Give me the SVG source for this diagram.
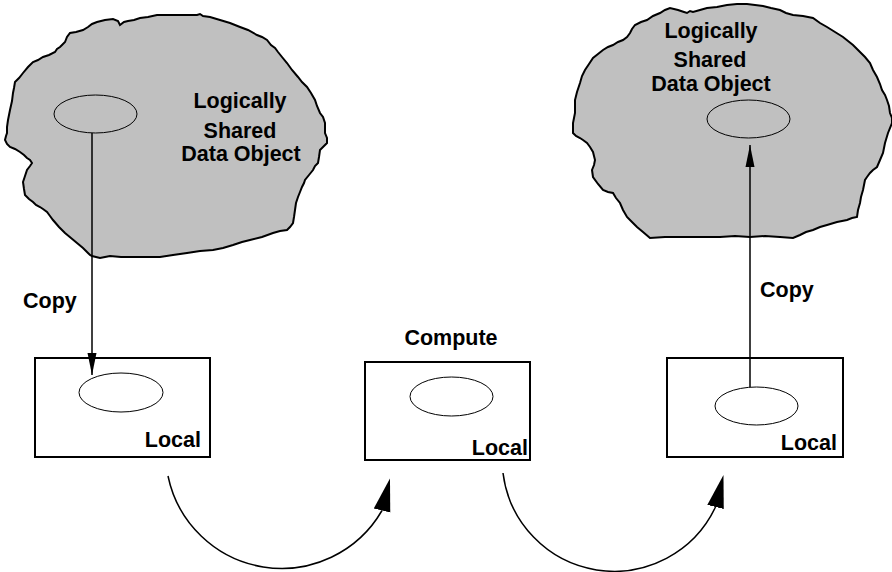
<svg xmlns="http://www.w3.org/2000/svg" width="892" height="572" viewBox="0 0 892 572">
<style>
.cloud{fill:#c0c0c0;stroke:#000;stroke-width:2;stroke-linejoin:miter}
.box{fill:#fff;stroke:#000;stroke-width:2}
.ell{fill:none;stroke:#000;stroke-width:1}
.lbl{font-family:"Liberation Sans",Arial,Helvetica,sans-serif;font-weight:bold;font-size:21.5px;fill:#000}
.mid{text-anchor:middle}
.end{text-anchor:end}
.conn{fill:none;stroke:#000;stroke-width:1.5}
</style>
<defs>
<marker id="arrS" markerUnits="userSpaceOnUse" viewBox="-22 -5 23 10" refX="0" refY="0" markerWidth="23" markerHeight="10" orient="auto">
<path d="M-22,-4.5 L0,0 L-22,4.5 Z" fill="#000"/>
</marker>
<marker id="arrC" markerUnits="userSpaceOnUse" viewBox="0 -9 34 18" refX="0" refY="0" markerWidth="34" markerHeight="18" orient="-76">
<path d="M0,-8.5 L33,0 L0,8.5 Z" fill="#000"/>
</marker>
</defs>
<rect width="892" height="572" fill="#fff"/>
<g id="cloud-left">
<path class="cloud" d="M8,120 L9,115 L10,110 L12,101 L13,93 L14,88 L15,82 L19,78 L23,73 L28,67 L33,62 L38,60 L43,57 L49,55 L55,52 L57,49 L60,47 L62,45 L65,42 L67,37 L70,33 L76,32 L83,30 L88,27 L92,24 L97,22 L105,20 L113,19 L118,21 L120,25 L124,22 L128,21 L134,20 L140,18 L148,17 L157,15 L170,15 L185,15 L197,15 L200,14 L203,16 L210,17 L220,20 L230,23 L240,27 L248,30 L257,35 L262,37 L267,40 L271,45 L275,48 L278,52 L282,57 L287,63 L292,70 L298,77 L302,82 L307,87 L311,93 L315,100 L317,106 L320,113 L323,117 L325,123 L325,128 L325,133 L327,138 L327,143 L323,147 L320,150 L319,157 L318,163 L315,166 L313,170 L309,175 L305,180 L304,183 L302,187 L300,192 L298,197 L296,203 L295,210 L294,217 L293,223 L290,227 L287,230 L280,231 L273,233 L262,237 L250,240 L242,242 L233,245 L223,248 L213,250 L200,251 L187,253 L173,255 L160,257 L147,257 L133,257 L121,257 L110,256 L105,257 L100,258 L96,257 L92,256 L90,255 L88,253 L83,248 L77,243 L71,238 L65,233 L59,227 L53,220 L50,216 L47,212 L43,209 L40,207 L36,205 L33,202 L29,199 L25,195 L24,189 L23,182 L25,176 L27,170 L30,166 L32,163 L30,160 L27,158 L24,155 L20,152 L15,149 L10,147 L7,144 L5,140 L6,136 L7,133 L7,127 Z"/>
<ellipse class="ell" cx="95.5" cy="114" rx="41.5" ry="19"/>
<text class="lbl mid" x="240" y="108">Logically</text>
<text class="lbl mid" x="240" y="138">Shared</text>
<text class="lbl mid" x="241" y="161">Data Object</text>
</g>
<g id="cloud-right">
<path class="cloud" d="M575,113 L575,106 L575,100 L577,92 L580,83 L582,76 L585,70 L589,64 L593,58 L598,54 L603,50 L608,47 L613,45 L618,42 L623,40 L627,37 L630,33 L632,29 L635,25 L641,22 L647,20 L653,16 L660,13 L665,10 L670,8 L678,10 L684,12 L687,13 L690,11 L693,12 L700,10 L707,8 L717,7 L727,5 L737,4 L747,4 L755,5 L763,6 L771,8 L780,10 L786,13 L793,15 L803,16 L813,18 L820,23 L827,27 L835,32 L843,37 L848,41 L853,45 L857,49 L860,52 L865,57 L870,63 L873,70 L877,77 L880,84 L882,90 L885,95 L887,100 L889,106 L890,113 L892,118 L892,123 L888,133 L885,143 L884,148 L883,153 L880,160 L877,167 L873,170 L870,173 L867,177 L865,180 L864,185 L863,190 L861,197 L860,203 L858,210 L857,217 L852,218 L847,220 L837,222 L827,225 L820,227 L813,230 L806,232 L800,235 L793,238 L780,237 L765,236 L750,237 L735,236 L720,237 L700,237 L680,237 L665,237 L650,238 L643,232 L637,227 L632,222 L627,217 L623,210 L620,203 L616,198 L613,193 L608,192 L603,190 L598,184 L593,177 L592,170 L594,165 L595,160 L594,156 L593,152 L590,147 L587,143 L583,140 L580,138 L576,136 L573,133 L573,128 L573,123 L574,118 Z"/>
<ellipse class="ell" cx="748.5" cy="119" rx="41.5" ry="19"/>
<text class="lbl mid" x="711" y="38">Logically</text>
<text class="lbl mid" x="710" y="67">Shared</text>
<text class="lbl mid" x="711" y="91">Data Object</text>
</g>
<g id="local-1">
<rect class="box" x="35" y="358" width="175" height="99"/>
<ellipse class="ell" cx="121" cy="392.5" rx="42" ry="19.5"/>
<text class="lbl end" x="201" y="447">Local</text>
</g>
<g id="local-2">
<rect class="box" x="365" y="362" width="165" height="98"/>
<ellipse class="ell" cx="451.5" cy="396.5" rx="41.5" ry="19.5"/>
<text class="lbl end" x="528" y="455">Local</text>
</g>
<g id="local-3">
<rect class="box" x="667" y="358" width="176" height="99"/>
<ellipse class="ell" cx="756.5" cy="406" rx="41.5" ry="19"/>
<text class="lbl end" x="837" y="450">Local</text>
</g>
<g id="labels">
<text class="lbl" x="23" y="308">Copy</text>
<text class="lbl" x="760" y="297">Copy</text>
<text class="lbl mid" x="451" y="345">Compute</text>
</g>
<g id="connectors">
<path class="conn" d="M92,133 L92,375" marker-end="url(#arrS)"/>
<path class="conn" d="M750,387 L750,145" marker-end="url(#arrS)"/>
<path class="conn" d="M168,476 A116,116 0 0 0 382,510.5" marker-end="url(#arrC)"/>
<path class="conn" d="M503,473 A112,112 0 0 0 715.5,507" marker-end="url(#arrC)"/>
</g>
</svg>
